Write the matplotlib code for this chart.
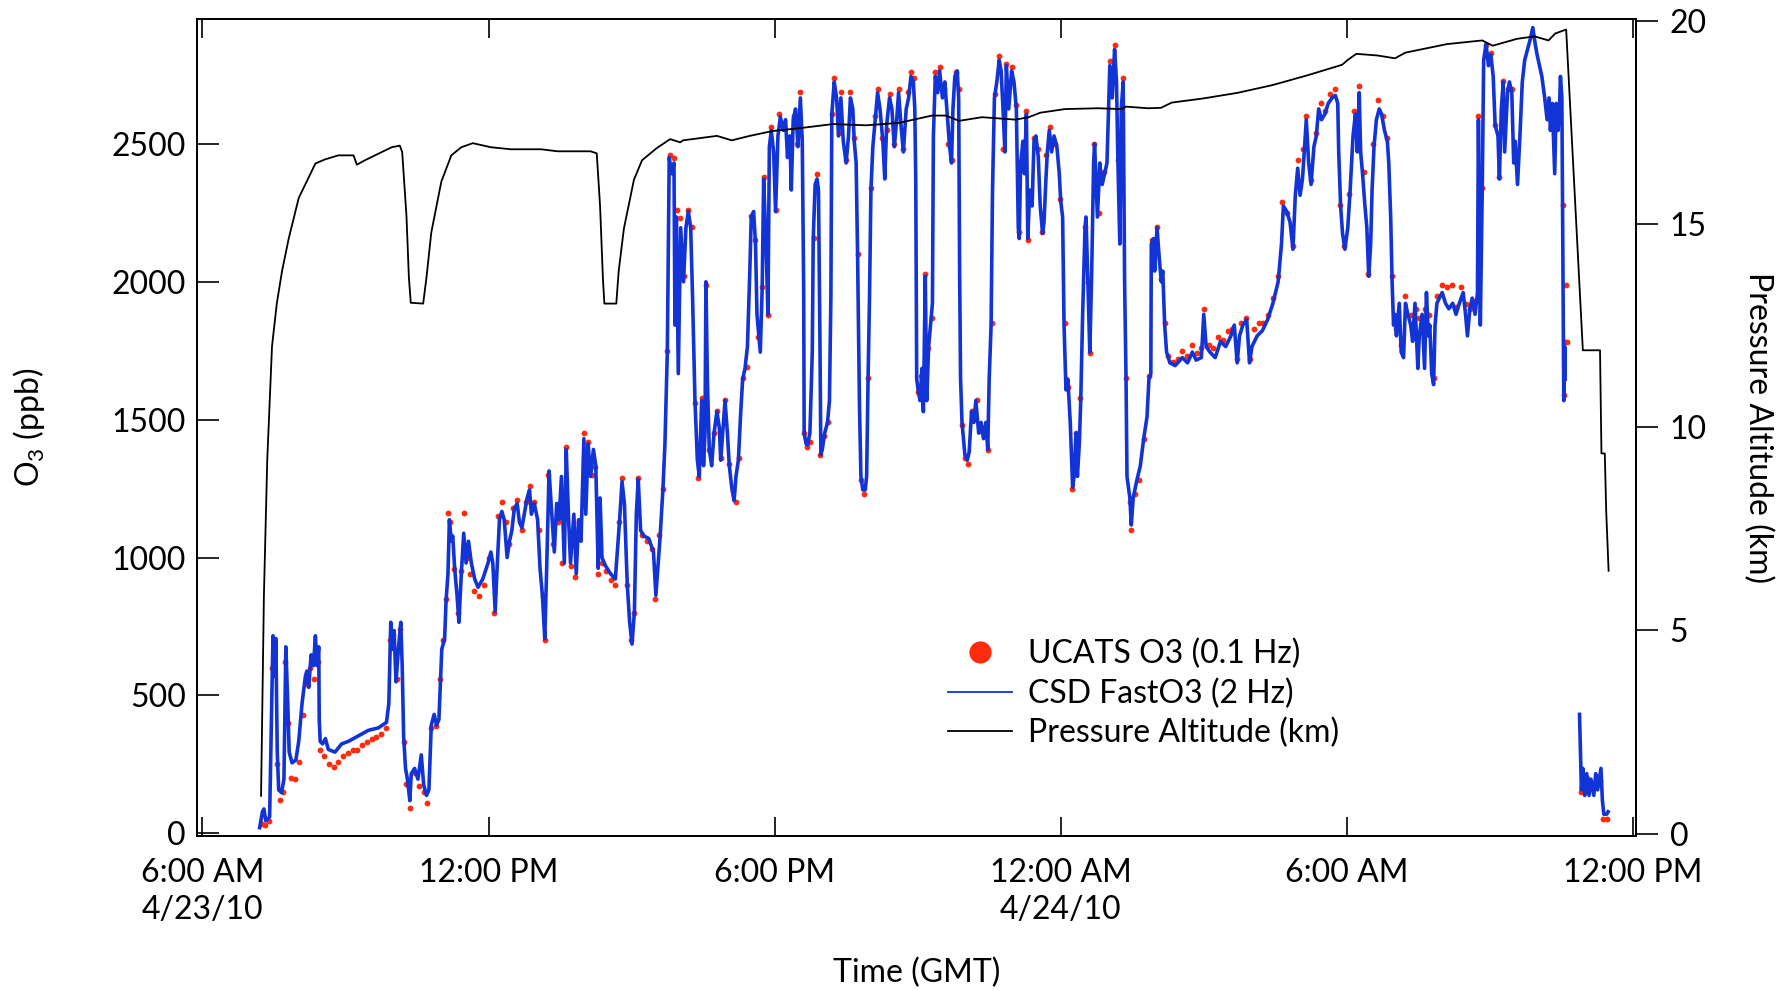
import numpy as np
import matplotlib
matplotlib.use("Agg")
import matplotlib.pyplot as plt
from matplotlib.lines import Line2D

plt.rcParams['font.family'] = ['Lato', 'DejaVu Sans']
plt.rcParams['mathtext.fontset'] = 'custom'
plt.rcParams['mathtext.rm'] = 'Lato'
plt.rcParams['mathtext.it'] = 'Lato:italic'

# x values are hours after 6:00 AM GMT on 4/23/10
alt_hours = [1.23, 1.29, 1.36, 1.46, 1.56, 1.67, 1.81, 2.02, 2.37, 2.57,
             2.85, 3.17, 3.20, 3.24, 3.41, 3.69, 3.97, 4.14, 4.19, 4.28,
             4.33, 4.37, 4.63, 4.70, 4.80, 5.01, 5.22, 5.43, 5.67, 6.05,
             6.47, 7.10, 7.45, 8.14, 8.27, 8.34, 8.40, 8.43, 8.68, 8.73,
             8.84, 9.05, 9.22, 9.53, 9.81, 10.02, 10.08, 10.79, 11.10, 11.48,
             11.96, 12.53, 13.22, 13.92, 14.61, 15.30, 15.59, 15.87, 16.35, 17.05,
             17.33, 17.57, 18.09, 18.79, 19.27, 19.37, 19.83, 20.10, 20.33, 20.98,
             21.71, 22.44, 23.17, 23.90, 24.02, 24.20, 24.64, 25.01, 25.23, 26.10,
             26.84, 27.06, 27.57, 27.94, 28.23, 28.37, 28.60, 28.95, 29.31, 29.34,
             29.41, 29.44, 29.49]
alt_km = [0.93, 5.86, 9.2, 12.0, 13.05, 13.85, 14.65, 15.65, 16.5, 16.6,
          16.7, 16.7, 16.6, 16.47, 16.58, 16.74, 16.9, 16.94, 16.78, 15.2,
          13.7, 13.07, 13.05, 13.7, 14.8, 16.05, 16.7, 16.9, 17.0, 16.9,
          16.85, 16.85, 16.8, 16.8, 16.75, 15.45, 13.65, 13.05, 13.05, 13.85,
          14.9, 16.1, 16.58, 16.88, 17.1, 17.02, 17.07, 17.18, 17.07, 17.18,
          17.3, 17.37, 17.47, 17.44, 17.5, 17.68, 17.68, 17.55, 17.64, 17.58,
          17.64, 17.75, 17.84, 17.86, 17.84, 17.9, 17.86, 17.87, 18.0, 18.1,
          18.24, 18.43, 18.67, 18.93, 19.05, 19.2, 19.16, 19.09, 19.23, 19.44,
          19.53, 19.4, 19.57, 19.63, 19.53, 19.7, 19.8, 11.9, 11.9, 9.36,
          9.36, 7.93, 6.47]

fast_hours = [
    1.20, 1.23, 1.26, 1.29, 1.33, 1.41, 1.44, 1.48, 1.52, 1.54,
    1.57, 1.60, 1.66, 1.71, 1.75, 1.79, 1.82, 1.88, 1.96, 2.02,
    2.09, 2.16, 2.19, 2.23, 2.28, 2.33, 2.37, 2.40, 2.44, 2.45,
    2.47, 2.52, 2.58, 2.64, 2.78, 2.92, 3.06, 3.27, 3.48, 3.69,
    3.86, 3.91, 3.95, 3.98, 4.02, 4.06, 4.11, 4.16, 4.19, 4.22,
    4.26, 4.30, 4.35, 4.38, 4.45, 4.52, 4.59, 4.64, 4.70, 4.75,
    4.80, 4.86, 4.91, 4.96, 5.00, 5.02, 5.08, 5.11, 5.15, 5.18,
    5.22, 5.25, 5.29, 5.34, 5.38, 5.43, 5.48, 5.53, 5.58, 5.64,
    5.71, 5.78, 5.88, 5.99, 6.05, 6.09, 6.14, 6.18, 6.23, 6.28,
    6.33, 6.39, 6.44, 6.49, 6.54, 6.60, 6.65, 6.70, 6.75, 6.81,
    6.86, 6.90, 6.96, 7.03, 7.08, 7.13, 7.18, 7.22, 7.27, 7.32,
    7.38, 7.43, 7.48, 7.53, 7.59, 7.63, 7.68, 7.72, 7.79, 7.84,
    7.89, 7.94, 8.00, 8.04, 8.09, 8.14, 8.20, 8.25, 8.30, 8.34,
    8.38, 8.45, 8.56, 8.66, 8.70, 8.75, 8.80, 8.85, 8.91, 8.96,
    9.01, 9.06, 9.10, 9.14, 9.19, 9.26, 9.36, 9.46, 9.51, 9.55,
    9.60, 9.66,
    9.70, 9.75, 9.79, 9.84, 9.89, 9.91, 9.94, 9.98, 10.03, 10.09,
    10.14, 10.19, 10.24, 10.28, 10.33, 10.38, 10.42, 10.47, 10.51, 10.54,
    10.56, 10.59, 10.63, 10.68, 10.73, 10.79, 10.84, 10.87, 10.91, 10.96,
    11.01, 11.05, 11.10, 11.15, 11.19, 11.24, 11.29, 11.33, 11.38, 11.43,
    11.48, 11.51, 11.56, 11.60, 11.63, 11.67, 11.70, 11.74, 11.77, 11.82,
    11.86, 11.89, 11.93, 11.98, 12.02, 12.07, 12.12, 12.18, 12.23, 12.27,
    12.32, 12.35, 12.39, 12.44, 12.49, 12.54, 12.58, 12.61, 12.62, 12.66,
    12.69, 12.74, 12.79, 12.81, 12.85, 12.89, 12.92, 12.95, 12.97, 13.00,
    13.05, 13.11, 13.15, 13.18, 13.20, 13.25, 13.30, 13.34, 13.39, 13.44,
    13.50, 13.55, 13.59, 13.64, 13.67, 13.71, 13.74, 13.78, 13.81, 13.85,
    13.90, 13.93, 13.96, 13.99, 14.02, 14.06, 14.11, 14.16, 14.21, 14.27,
    14.31, 14.35, 14.41, 14.46, 14.51, 14.56, 14.60, 14.65, 14.70, 14.76,
    14.81, 14.86, 14.91, 14.94, 14.96, 14.98, 15.01, 15.05, 15.09, 15.12,
    15.16, 15.19, 15.23, 15.28, 15.31, 15.33, 15.37, 15.42, 15.46, 15.52,
    15.57, 15.62, 15.67, 15.71, 15.74, 15.78, 15.83, 15.86, 15.88, 15.90,
    15.93, 15.99, 16.04, 16.08, 16.13, 16.18, 16.22, 16.28, 16.33, 16.38,
    16.43, 16.47, 16.50, 16.54, 16.57, 16.61, 16.66, 16.71, 16.75, 16.79,
    16.83, 16.86, 16.91, 16.97, 17.02, 17.07, 17.11, 17.13, 17.16, 17.21,
    17.24, 17.28, 17.31, 17.35, 17.40, 17.44, 17.48, 17.53, 17.57, 17.62,
    17.65, 17.69, 17.72, 17.76, 17.81, 17.86, 17.92, 17.97, 18.00, 18.04,
    18.07, 18.11, 18.15, 18.20, 18.25, 18.28, 18.32, 18.35, 18.39, 18.42,
    18.46, 18.51, 18.53, 18.57, 18.61, 18.65, 18.69, 18.71, 18.77, 18.82,
    18.87, 18.92, 18.97, 19.03, 19.08, 19.13, 19.17, 19.20, 19.24, 19.27,
    19.31, 19.34, 19.37, 19.39, 19.45, 19.48,
    19.52, 19.59, 19.67, 19.74, 19.81, 19.85, 19.89, 19.90, 19.95, 19.97,
    20.02, 20.07, 20.11, 20.14, 20.18, 20.22, 20.29, 20.40, 20.55, 20.66,
    20.76, 20.84, 20.95, 21.00, 21.05, 21.13, 21.24, 21.35, 21.46, 21.57,
    21.64, 21.70, 21.75, 21.82, 21.90, 21.96, 22.01, 22.12, 22.23, 22.34,
    22.45, 22.56, 22.63, 22.67, 22.74, 22.81, 22.87, 22.92, 22.97, 23.02,
    23.07, 23.10, 23.15, 23.20, 23.25, 23.31, 23.36, 23.41, 23.47, 23.54,
    23.61, 23.69, 23.76, 23.81, 23.83, 23.87, 23.91, 23.96, 24.02, 24.07,
    24.13, 24.18, 24.22, 24.26, 24.29, 24.33, 24.38, 24.42, 24.46, 24.50,
    24.53, 24.57, 24.62, 24.68, 24.73, 24.79, 24.85, 24.88, 24.92, 24.95,
    24.98, 25.01, 25.04, 25.10, 25.14, 25.19, 25.23, 25.28, 25.34, 25.38,
    25.43, 25.49, 25.52, 25.58, 25.63, 25.67, 25.71, 25.74, 25.78, 25.82,
    25.85, 25.89, 25.94, 26.00, 26.07, 26.14, 26.22, 26.29, 26.36, 26.44,
    26.49, 26.53, 26.58, 26.63, 26.69, 26.74, 26.76, 26.80, 26.84, 26.87,
    26.92, 26.97, 27.02, 27.07, 27.11, 27.17, 27.20, 27.24, 27.28, 27.31,
    27.37, 27.41, 27.46, 27.50, 27.53, 27.58, 27.63, 27.68, 27.73, 27.79,
    27.85, 27.90, 27.95, 27.99, 28.04, 28.09, 28.15, 28.20, 28.24, 28.27,
    28.31, 28.36, 28.39, 28.43, 28.46, 28.48, 28.51, 28.53, 28.55, 28.57,
    28.58, 28.70, 28.88, 28.92, 28.95, 28.99, 29.03, 29.08, 29.12, 29.18,
    29.22, 29.26, 29.33, 29.36, 29.39, 29.45, 29.48]
fast_o3 = [
    20, 49, 78, 88, 45, 59, 333, 716, 569, 706,
    294, 157, 147, 196, 676, 471, 294, 255, 265, 333,
    471, 569, 588, 529, 647, 608, 716, 608, 676, 412,
    333, 324, 343, 304, 294, 324, 333, 353, 373, 382,
    402, 471, 765, 667, 735, 549, 667, 765, 608, 353,
    235, 196, 118, 216, 235, 196, 284, 176, 137, 157,
    392, 431, 392, 412, 588, 667, 706, 843, 941, 1137,
    1059, 1078, 961, 863, 765, 941, 1088, 980, 1059, 980,
    922, 892, 922, 980, 1020, 980, 804, 961, 1137, 1167,
    1137, 1000, 1059, 1098, 1176, 1196, 1127, 1108, 1157, 1216,
    1245, 1157, 1196, 1137, 961, 863, 706, 961, 1314, 1176,
    1020, 1196, 1137, 1294, 980, 1392, 1137, 980, 1157, 941,
    1137, 1059, 1431, 1157, 1412, 1294, 1392, 1333, 961, 1216,
    1000, 971, 941, 922, 1020, 1137, 1275, 1196, 902, 765,
    686, 804, 1157, 1284, 1098, 1078, 1069, 1020, 863, 961,
    1078, 1255,
    1412, 1745, 2451, 2392, 2431, 1843, 2235, 1667, 2196, 2000,
    2196, 2255, 2196, 1941, 1569, 1353, 1294, 1569, 1333, 1451,
    2000, 1647, 1392, 1333, 1451, 1529, 1471, 1353, 1451, 1569,
    1451, 1333, 1255, 1206, 1294, 1353, 1529, 1647, 1686, 1765,
    2039, 2235, 2255, 2137, 1882, 1804, 1745, 1980, 2373, 2137,
    1882, 2490, 2549, 2471, 2255, 2529, 2598, 2549, 2588, 2451,
    2529, 2333, 2588, 2627, 2490, 2667, 2510, 1961, 1451, 1412,
    1408, 1451, 1745, 2157, 2353, 2373, 2333, 1804, 1373, 1392,
    1451, 1490, 1569, 1941, 2608, 2725, 2667, 2529, 2667, 2510,
    2431, 2529, 2667, 2627, 2510, 2431, 2098, 1549, 1294, 1245,
    1245, 1294, 1647, 1941, 2333, 2490, 2588, 2686, 2627, 2510,
    2373, 2569, 2667, 2627, 2490, 2588, 2686, 2569, 2471, 2627,
    2667, 2745, 2725, 2627, 2373, 1647, 1608, 1569, 1686, 1529,
    2020, 1569, 1765, 1863, 1922, 2529, 2745, 2686, 2765, 2667,
    2725, 2608, 2490, 2431, 2627, 2745, 2765, 2667, 2039, 1647,
    1490, 1373, 1353, 1382, 1529, 1490, 1569, 1451, 1490, 1431,
    1490, 1392, 1647, 1843, 2333, 2667, 2725, 2804, 2765, 2627,
    2471, 2784, 2627, 2765, 2725, 2627, 2196, 2157, 2431, 2510,
    2392, 2608, 2157, 2333, 2275, 2510, 2529, 2451, 2275, 2176,
    2216, 2373, 2471, 2549, 2471, 2529, 2490, 2392, 2294, 2235,
    1843, 1608, 1647, 1490, 1255, 1294, 1451, 1294, 1412, 1569,
    1882, 2196, 2235, 2000, 1745, 2039, 2431, 2500, 2235, 2431,
    2353, 2392, 2431, 2784, 2667, 2843, 2725, 2431, 2137, 2627,
    2725, 2000, 1647, 1294, 1216, 1118,
    1216, 1275, 1333, 1431, 1510, 1647, 1667, 2137, 2157, 2039,
    2196, 2078, 2000, 2039, 1843, 1745, 1706, 1696, 1725, 1706,
    1745, 1716, 1725, 1882, 1765, 1745, 1725, 1784, 1765, 1804,
    1843, 1706, 1804, 1843, 1863, 1706, 1765, 1804, 1823, 1863,
    1922, 2000, 2137, 2275, 2255, 2216, 2118, 2314, 2412, 2314,
    2373, 2451, 2588, 2431, 2353, 2490, 2529, 2627, 2588, 2608,
    2647, 2667, 2676, 2647, 2471, 2275, 2176, 2118, 2196, 2333,
    2529, 2608, 2471, 2686, 2471, 2392, 2275, 2196, 2020, 2137,
    2333, 2490, 2588, 2627, 2608, 2549, 2510, 2431, 2235, 2000,
    1843, 1882, 1804, 1922, 1745, 1725, 1922, 1882, 1843, 1784,
    1922, 1686, 1804, 1882, 1686, 1961, 1804, 1843, 1667, 1627,
    1843, 1922, 1941, 1961, 1922, 1902, 1922, 1882, 1922, 1961,
    1882, 1804, 1902, 1941, 1882, 1961, 2588, 1843, 2333, 2804,
    2863, 2784, 2824, 2745, 2569, 2529, 2373, 2627, 2725, 2471,
    2686, 2725, 2686, 2431, 2510, 2353, 2529, 2725, 2804, 2843,
    2882, 2922, 2863, 2824, 2784, 2745, 2667, 2588, 2667, 2549,
    2647, 2392, 2647, 2549, 2627, 2745, 2667, 2118, 1569, 1765,
    1647, np.nan, 431, 157, 235, 137, 216, 137, 196, 137,
    216, 157, 235, 118, 69, 69, 78]

ucats_hours = [
    1.25, 1.32, 1.40, 1.47, 1.50, 1.56, 1.62, 1.68, 1.74, 1.80,
    1.86, 1.94, 2.02, 2.10, 2.18, 2.26, 2.34, 2.42, 2.47, 2.55,
    2.65, 2.75, 2.85, 2.95, 3.05, 3.15, 3.25, 3.35, 3.45, 3.55,
    3.65, 3.75, 3.85, 3.93, 4.00, 4.08, 4.15, 4.22, 4.28, 4.35,
    4.45, 4.55, 4.65, 4.72, 4.80, 4.90, 4.98, 5.05, 5.10, 5.15,
    5.20, 5.28, 5.35, 5.42, 5.48, 5.55, 5.62, 5.70, 5.80, 5.90,
    6.00, 6.12, 6.20, 6.28, 6.36, 6.44, 6.52, 6.60, 6.70, 6.78,
    6.86, 6.95, 7.05, 7.15, 7.18, 7.25, 7.35, 7.45, 7.55, 7.62,
    7.72, 7.82, 7.90, 8.00, 8.08, 8.16, 8.24, 8.30, 8.38, 8.46,
    8.56, 8.66, 8.74, 8.80, 8.90, 8.98, 9.06, 9.14, 9.22, 9.32,
    9.42, 9.50, 9.58, 9.66, 9.75, 9.80, 9.88, 9.95, 10.02, 10.10,
    10.18, 10.26, 10.33, 10.40, 10.48, 10.56, 10.63, 10.72, 10.80, 10.88,
    10.96, 11.04, 11.12, 11.18, 11.26, 11.34, 11.42, 11.50, 11.58, 11.66,
    11.74, 11.78, 11.86, 11.93, 12.02, 12.10, 12.20, 12.30, 12.40, 12.48,
    12.54, 12.62, 12.68, 12.75, 12.82, 12.88, 12.96, 13.04, 13.12, 13.20,
    13.25, 13.34, 13.40, 13.50, 13.59, 13.67, 13.74, 13.82, 13.88, 13.95,
    14.02, 14.10, 14.16, 14.26, 14.35, 14.42, 14.50, 14.60, 14.70, 14.80,
    14.86, 14.92, 15.00, 15.08, 15.16, 15.22, 15.30, 15.37, 15.46, 15.55,
    15.64, 15.72, 15.80, 15.86, 15.92, 16.00, 16.06, 16.15, 16.24, 16.32,
    16.42, 16.48, 16.55, 16.62, 16.71, 16.80, 16.86, 16.97, 17.06, 17.12,
    17.20, 17.28, 17.32, 17.44, 17.52, 17.60, 17.70, 17.78, 17.88, 17.98,
    18.08, 18.16, 18.24, 18.32, 18.40, 18.50, 18.58, 18.62, 18.70, 18.80,
    18.90, 19.03, 19.13, 19.20, 19.31, 19.37, 19.45, 19.48, 19.55, 19.65,
    19.75, 19.85, 19.92, 20.02, 20.10, 20.18, 20.26, 20.35, 20.45, 20.55,
    20.65, 20.75, 20.85, 20.95, 21.00, 21.10, 21.20, 21.30, 21.40, 21.50,
    21.60, 21.70, 21.78, 21.88, 21.96, 22.05, 22.15, 22.25, 22.35, 22.45,
    22.55, 22.65, 22.75, 22.87, 22.97, 23.08, 23.15, 23.25, 23.36, 23.45,
    23.55, 23.65, 23.76, 23.85, 23.95, 24.05, 24.15, 24.26, 24.35, 24.45,
    24.55, 24.65, 24.75, 24.85, 24.95, 25.04, 25.14, 25.23, 25.34, 25.45,
    25.52, 25.63, 25.72, 25.82, 25.90, 26.00, 26.10, 26.20, 26.30, 26.40,
    26.50, 26.58, 26.68, 26.76, 26.84, 26.92, 27.02, 27.11, 27.20, 27.28,
    27.37, 27.46, 28.53,
    28.55, 28.58, 28.60, 28.62, 28.92, 29.03, 29.15, 29.30, 29.38, 29.45]
ucats_o3 = [
    35, 30, 45, 600, 700, 250, 120, 150, 620, 400,
    200, 195, 260, 430, 540, 600, 560, 620, 300, 280,
    250, 240, 260, 280, 290, 300, 300, 320, 330, 340,
    350, 360, 380, 700, 720, 560, 740, 330, 180, 90,
    220, 170, 150, 110, 380, 390, 560, 700, 850, 1160,
    1130, 960, 800, 950, 1160, 1000, 940, 880, 860, 900,
    1000, 800, 1150, 1200, 1130, 1050, 1180, 1210, 1100, 1200,
    1260, 1200, 1100, 860, 700, 1300, 1050, 1130, 980, 1400,
    970, 930, 1130, 1450, 1420, 1300, 1330, 940, 980, 950,
    920, 900, 1130, 1290, 900, 700, 800, 1290, 1080, 1060,
    1030, 850, 1080, 1250, 1750, 2460, 2450, 2260, 2230, 2020,
    2260, 2200, 1560, 1290, 1580, 1990, 1390, 1450, 1530, 1360,
    1570, 1340, 1240, 1200, 1360, 1650, 1690, 2240, 2150, 1800,
    1980, 2380, 1880, 2560, 2260, 2610, 2560, 2470, 2600, 2500,
    2690, 1450, 1400, 1420, 2160, 2390, 1370, 1440, 1490, 2610,
    2740, 2540, 2690, 2440, 2690, 2520, 2100, 1280, 1230, 1650,
    2340, 2600, 2700, 2520, 2550, 2680, 2500, 2700, 2480, 2690,
    2760, 2740, 1600, 1660, 2030, 1760, 1870, 2760, 2780, 2700,
    2500, 2440, 2760, 2700, 1480, 1360, 1340, 1530, 1570, 1460,
    1440, 1390, 1850, 2680, 2820, 2480, 2790, 2780, 2640, 2180,
    2500, 2620, 2150, 2520, 2480, 2180, 2460, 2560, 2500, 2300,
    1850, 1620, 1250, 1450, 1580, 2200, 2000, 1740, 2500, 2250,
    2400, 2800, 2860, 2440, 2740, 1650, 1200, 1100, 1230, 1280,
    1430, 1660, 2150, 2200, 2010, 1850, 1730, 1710, 1720, 1750,
    1730, 1770, 1740, 1760, 1900, 1770, 1760, 1800, 1790, 1820,
    1830, 1720, 1850, 1870, 1720, 1830, 1850, 1850, 1880, 1940,
    2020, 2290, 2250, 2130, 2440, 2480, 2600, 2370, 2540, 2650,
    2620, 2680, 2700, 2280, 2130, 2320, 2620, 2710, 2400, 2030,
    2500, 2660, 2600, 2520, 2020, 1830, 1770, 1950, 1880, 1900,
    1870, 1900, 1880, 1650, 1950, 1990, 1980, 1990, 1910, 1980,
    1920, 1900, 1930, 2600, 2340, 2860, 2830, 2570, 2380, 2730,
    2700, 2700, 2280,
    1590, 1780, 1990, 1780, 150, 200, 170, 190, 50, 50]

tick_hours = [0, 6, 12, 18, 24, 30]
tick_labels = ['6:00 AM\n4/23/10', '12:00 PM', '6:00 PM',
               '12:00 AM\n4/24/10', '6:00 AM', '12:00 PM']

red = '#ff2b0d'
blue = '#1233d6'

fig = plt.figure(figsize=(17.91, 9.90), dpi=100)
ax = fig.add_axes([0.110, 0.1556, 0.8036, 0.8257])
ax2 = ax.twinx()

ax.plot(ucats_hours, ucats_o3, 'o', color=red, ms=4.2, mec='none', zorder=2)
ax.plot(fast_hours, fast_o3, '-', color=blue, lw=2.6, zorder=3)
ax2.plot(alt_hours, alt_km, '-', color='black', lw=1.3)

ax.set_xlim(-0.113, 30.07)
ax.set_ylim(-10, 2955)
ax2.set_ylim(-0.06, 20.07)

ax.set_xticks(tick_hours)
ax.set_xticklabels(tick_labels)
for lbl in ax.get_xticklabels():
    lbl.set_linespacing(1.3)
ax.set_yticks([0, 500, 1000, 1500, 2000, 2500])
ax2.set_yticks([0, 5, 10, 15, 20])

ax.tick_params(axis='x', direction='in', top=True, length=14, width=1.2,
               labelsize=23, pad=16)
ax.tick_params(axis='y', direction='in', length=16, width=1.2,
               labelsize=23, pad=8)
ax2.tick_params(axis='y', direction='out', length=16, width=1.2,
                labelsize=23, pad=8)
for a in (ax, ax2):
    for s in a.spines.values():
        s.set_linewidth(1.3)

ax.set_xlabel('Time (GMT)', fontsize=23, va='center')
ax.xaxis.set_label_coords(0.5, -0.168)
ax.set_ylabel('O$_3$ (ppb)', fontsize=23, va='center')
ax.yaxis.set_label_coords(-0.1167, 0.5)
ax2.set_ylabel('Pressure Altitude (km)', fontsize=23, rotation=-90,
               va='center', ha='center')
ax2.yaxis.set_label_coords(1.0845, 0.5)

handles = [
    Line2D([], [], ls='none', marker='o', color=red, ms=16, mec='none'),
    Line2D([], [], color=blue, lw=1.3),
    Line2D([], [], color='black', lw=1.3),
]
labels = ['UCATS O3 (0.1 Hz)', 'CSD FastO3 (2 Hz)', 'Pressure Altitude (km)']
ax2.legend(handles, labels, loc='upper left', bbox_to_anchor=(0.5293, 0.3545),
           bbox_transform=fig.transFigure, frameon=False, fontsize=23,
           borderpad=0, borderaxespad=0, handlelength=2.0,
           handletextpad=0.52, labelspacing=0.28)

fig.savefig('out.png', dpi=100)
